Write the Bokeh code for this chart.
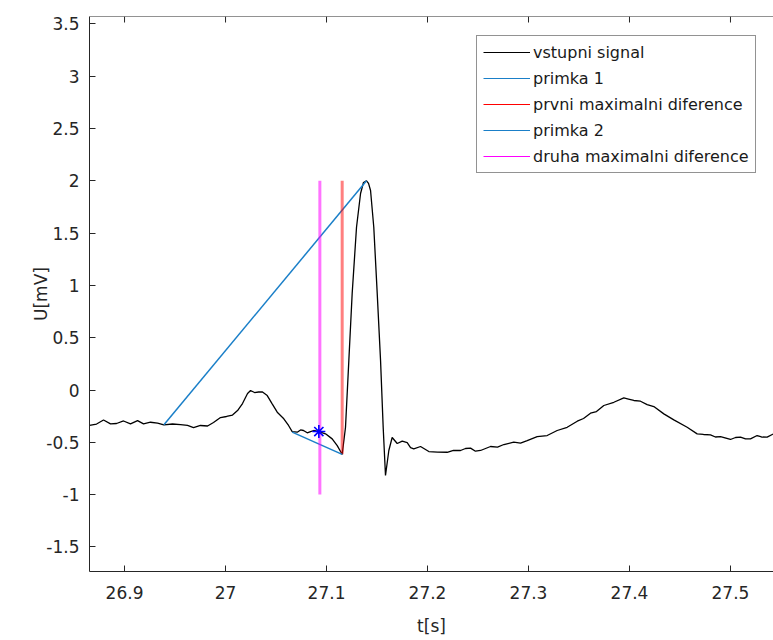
from bokeh.plotting import figure
from bokeh.models import Range1d, FixedTicker, Legend, LegendItem, Span
from bokeh.embed import file_html
from bokeh.resources import INLINE

# ECG segment (time in s, voltage in mV)
t = [26.8653, 26.8723, 26.8792, 26.8861, 26.8921, 26.8990, 26.9059, 26.9129, 26.9188, 26.9257,
     26.9327, 26.9389, 26.9475, 26.9554, 26.9624, 26.9683, 26.9752, 26.9822, 26.9881, 26.9950,
     27.0010, 27.0069, 27.0119, 27.0168, 27.0218, 27.0248, 27.0287, 27.0327, 27.0366, 27.0413,
     27.0462, 27.0512, 27.0577, 27.0624, 27.0660, 27.0710, 27.0743, 27.0772, 27.0809, 27.0842,
     27.0874, 27.0924, 27.0990, 27.1056, 27.1106, 27.1139, 27.1155, 27.1188, 27.1221, 27.1254,
     27.1297, 27.1337, 27.1366, 27.1396, 27.1416, 27.1436, 27.1468, 27.1502, 27.1535, 27.1561,
     27.1584, 27.1617, 27.1650, 27.1700, 27.1750, 27.1799, 27.1832, 27.1864, 27.1931, 27.2013,
     27.2099, 27.2195, 27.2257, 27.2327, 27.2376, 27.2426, 27.2475, 27.2525, 27.2624, 27.2693,
     27.2756, 27.2854, 27.2921, 27.2987, 27.3086, 27.3185, 27.3284, 27.3383, 27.3483, 27.3545,
     27.3614, 27.3673, 27.3746, 27.3845, 27.3944, 27.3990, 27.4043, 27.4109, 27.4175, 27.4241,
     27.4340, 27.4439, 27.4571, 27.4670, 27.4733, 27.4802, 27.4851, 27.4901, 27.5000, 27.5050,
     27.5099, 27.5149, 27.5198, 27.5264, 27.5307, 27.5363, 27.5426]
u = [-0.339, -0.325, -0.287, -0.323, -0.320, -0.296, -0.323, -0.293, -0.323, -0.308,
     -0.317, -0.333, -0.325, -0.330, -0.339, -0.359, -0.339, -0.344, -0.311, -0.263,
     -0.253, -0.239, -0.196, -0.129, -0.033, -0.005, -0.024, -0.019, -0.019, -0.053,
     -0.132, -0.212, -0.275, -0.339, -0.397, -0.403, -0.382, -0.387, -0.409, -0.397,
     -0.387, -0.397, -0.419, -0.467, -0.531, -0.588, -0.615, -0.356, 0.282, 0.923,
     1.556, 1.879, 1.984, 2.000, 1.975, 1.907, 1.556, 0.923, 0.282, -0.356,
     -0.817, -0.578, -0.454, -0.511, -0.488, -0.502, -0.550, -0.562, -0.540, -0.588,
     -0.593, -0.595, -0.578, -0.578, -0.559, -0.556, -0.585, -0.578, -0.540, -0.545,
     -0.521, -0.499, -0.507, -0.483, -0.445, -0.435, -0.387, -0.356, -0.298, -0.272,
     -0.222, -0.206, -0.148, -0.117, -0.075, -0.086, -0.100, -0.107, -0.139, -0.158,
     -0.228, -0.285, -0.356, -0.419, -0.425, -0.428, -0.449, -0.445, -0.473, -0.454,
     -0.451, -0.468, -0.467, -0.435, -0.449, -0.451, -0.419]

# helper lines and markers
line1_t = [26.939, 27.1396]
line1_u = [-0.333, 2.000]
line2_t = [27.066, 27.1155]
line2_u = [-0.403, -0.615]
diff1_t = [27.1155, 27.1155]
diff1_u = [-0.615, 2.000]
diff2_t = [27.0934, 27.0934]
diff2_u = [-1.0, 2.0]
mark_t = [27.0924]
mark_u = [-0.397]

x_ticks = [26.9, 27.0, 27.1, 27.2, 27.3, 27.4, 27.5]
x_tick_labels = ["26.9", "27", "27.1", "27.2", "27.3", "27.4", "27.5"]
y_ticks = [-1.5, -1.0, -0.5, 0.0, 0.5, 1.0, 1.5, 2.0, 2.5, 3.0, 3.5]
y_tick_labels = ["-1.5", "-1", "-0.5", "0", "0.5", "1", "1.5", "2", "2.5", "3", "3.5"]

legend_labels = ["vstupni signal", "primka 1", "prvni maximalni diference",
                 "primka 2", "druha maximalni diference"]
BLUE = "#1a7fc8"
legend_colors = ["black", BLUE, "#FF0000", BLUE, "#FF00FF"]

X0, X1 = 26.8653, 27.5426
Y0, Y1 = -1.735, 3.571

FONT = "DejaVu Sans"
AX = "#262626"

p = figure(width=773, height=640, output_backend="svg", toolbar_location=None,
           x_range=Range1d(X0, X1), y_range=Range1d(Y0, Y1),
           min_border_left=89, min_border_right=0, min_border_top=16, min_border_bottom=69)
p.outline_line_color = None
p.xgrid.visible = False
p.ygrid.visible = False
p.background_fill_color = "white"
p.border_fill_color = "white"

xax = p.below[0]
yax = p.left[0]

xax.ticker = FixedTicker(ticks=x_ticks)
xax.major_label_overrides = dict(zip(x_ticks, x_tick_labels))
yax.ticker = FixedTicker(ticks=y_ticks)
yax.major_label_overrides = dict(zip(y_ticks, y_tick_labels))

for ax in [xax, yax]:
    ax.axis_line_color = AX
    ax.axis_line_width = 1
    ax.major_tick_line_color = AX
    ax.major_tick_in = 6
    ax.major_tick_out = 0
    ax.minor_tick_line_color = None
    ax.major_label_text_font = FONT
    ax.major_label_text_font_size = "17px"
    ax.major_label_text_color = AX
    ax.axis_label_text_font = FONT
    ax.axis_label_text_font_size = "17px"
    ax.axis_label_text_font_style = "normal"
    ax.axis_label_text_color = AX

xax.axis_label = "t[s]"
xax.major_label_standoff = 14
xax.axis_label_standoff = 14
yax.axis_label = "U[mV]"
yax.major_label_standoff = 10
yax.axis_label_standoff = -8

# top edge of the box with inward ticks
p.add_layout(Span(location=Y1, dimension="width", line_color=AX, line_width=1))
tick_len = (Y1 - Y0) * 6 / 555
p.segment(x0=x_ticks, x1=x_ticks, y0=[Y1] * len(x_ticks), y1=[Y1 - tick_len] * len(x_ticks),
          line_color=AX, line_width=1)

# plotted data
p.line(t, u, line_color="black", line_width=1.3)
p.line(line1_t, line1_u, line_color=BLUE, line_width=1.5)
p.line(diff1_t, diff1_u, line_color="#FF0000", line_alpha=0.5, line_width=3)
p.line(line2_t, line2_u, line_color=BLUE, line_width=1.5)
p.line(diff2_t, diff2_u, line_color="#FF00FF", line_alpha=0.55, line_width=3)
p.scatter(mark_t, mark_u, marker="asterisk", size=13, line_color="#0000FF", line_width=1.6)

# legend entries (thin full-colour swatches)
nan = float("nan")
items = []
for lab, col in zip(legend_labels, legend_colors):
    r = p.line([nan, nan], [nan, nan], line_color=col, line_width=1)
    items.append(LegendItem(label=lab, renderers=[r]))

legend = Legend(items=items, location=(387, 398))
legend.border_line_color = AX
legend.border_line_width = 1
legend.background_fill_color = "white"
legend.background_fill_alpha = 1
legend.label_text_font = FONT
legend.label_text_font_size = "16px"
legend.label_text_color = "#1a1a1a"
legend.glyph_width = 47
legend.glyph_height = 20
legend.label_height = 20
legend.label_standoff = 3
legend.spacing = 6
legend.padding = 6
legend.margin = 0
p.add_layout(legend)

open("out.html", "w").write(file_html(p, INLINE))
